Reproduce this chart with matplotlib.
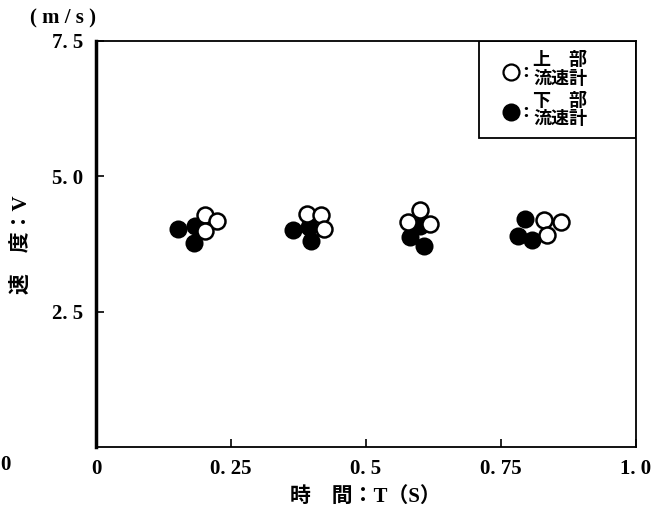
import matplotlib.pyplot as plt
from matplotlib.patches import Rectangle

plt.rcParams['font.family'] = ['Liberation Serif', 'Noto Sans CJK JP', 'DejaVu Sans']

# 上部流速計 (open circles)
upper_t = [0.202, 0.224, 0.202, 0.391, 0.417, 0.422, 0.600, 0.578, 0.619, 0.830, 0.861, 0.835]
upper_v = [4.29, 4.17, 3.99, 4.30, 4.29, 4.03, 4.38, 4.16, 4.12, 4.19, 4.16, 3.92]
# 下部流速計 (filled circles)
lower_t = [0.152, 0.183, 0.181, 0.365, 0.394, 0.398, 0.600, 0.581, 0.607, 0.794, 0.781, 0.807]
lower_v = [4.03, 4.08, 3.77, 4.01, 4.06, 3.81, 4.08, 3.88, 3.71, 4.21, 3.90, 3.82]

xticks = [0, 0.25, 0.5, 0.75, 1.0]
xlabels = ['0', '0. 25', '0. 5', '0. 75', '1. 0']
yticks = [2.5, 5.0, 7.5]
ylabels = ['2. 5', '5. 0', '7. 5']

fig = plt.figure(figsize=(6.72, 5.2), dpi=100)
ax = fig.add_axes([0.1429, 0.1404, 0.8036, 0.7808])

ax.plot(lower_t, lower_v, 'o', ms=11.5, mfc='black', mec='black', mew=1.5, zorder=3)
ax.plot(upper_t, upper_v, 'o', ms=11.5, mfc='white', mec='black', mew=1.8, zorder=4)

ax.set_xlim(0, 1.0)
ax.set_ylim(0, 7.5)
ax.set_xticks(xticks)
ax.set_xticklabels(xlabels, fontsize=15, fontweight='bold')
ax.set_yticks(yticks)
ax.set_yticklabels(ylabels, fontsize=15, fontweight='bold')
ax.tick_params(direction='in', length=6, width=1.2, pad=9)
ax.tick_params(axis='x', pad=9)
for s in ax.spines.values():
    s.set_linewidth(1.3)
ax.spines['left'].set_linewidth(2.5)

# legend box
ax.add_patch(Rectangle((0.709, 0.761), 0.291, 0.239, transform=ax.transAxes,
                       fill=False, edgecolor='black', lw=1.3, zorder=5))
ax.plot([0.769], [0.924], 'o', ms=11.5, mfc='white', mec='black', mew=1.6,
        transform=ax.transAxes, clip_on=False, zorder=6)
ax.plot([0.769], [0.825], 'o', ms=11.5, mfc='black', mec='black', mew=1.5,
        transform=ax.transAxes, clip_on=False, zorder=6)
for yy, top in [(0.924, '上　部'), (0.825, '下　部')]:
    ax.text(0.790, yy, ':', transform=ax.transAxes, fontsize=15, fontweight='bold',
            ha='left', va='center')
    ax.text(0.810, yy + 0.027, top, transform=ax.transAxes, fontsize=13,
            fontweight='bold', ha='left', va='center')
    ax.text(0.810, yy - 0.018, '流速計', transform=ax.transAxes, fontsize=13,
            fontweight='bold', ha='left', va='center')

fig.text(0.094, 0.965, '( m / s )', fontsize=15, fontweight='bold', ha='center', va='center')
fig.text(0.543, 0.044, '時　間：T（S）', fontsize=15, fontweight='bold', ha='center', va='center')
fig.text(0.032, 0.53, '速　度：V', fontsize=15, fontweight='bold', rotation=90,
         ha='center', va='center')
fig.text(0.0, 0.106, '0', fontsize=15, fontweight='bold', ha='left', va='center')

fig.savefig('out.png', dpi=100)
